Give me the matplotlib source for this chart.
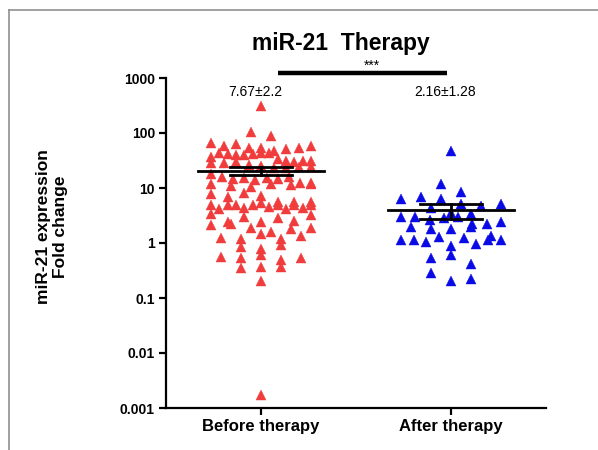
import matplotlib
matplotlib.use("Agg")
import matplotlib.pyplot as plt
from matplotlib.lines import Line2D
import numpy as np

plt.rcParams['font.family'] = ['Liberation Sans', 'DejaVu Sans']

# miR-21 fold change
groups = ['Before therapy', 'After therapy']
before = [313, 104, 89, 67, 59, 63, 53, 53, 48, 51, 53, 57,
          36, 43, 42, 40, 40, 42, 43, 43,
          33, 28.5, 31.5, 29.7, 28.5, 30.6, 29.3, 30.6,
          25.9, 24.8, 23.1, 23.1, 24.1, 24.1,
          17.6, 15.7, 14.5, 15.0, 14.0, 15.5, 14.8, 16.0,
          12.4, 11.9, 10.8, 10.3, 11.9, 11.2, 11.9, 12.4,
          7.8, 6.8, 8.1, 7.1,
          5.0, 4.1, 4.9, 3.3, 4.9, 5.6, 4.4, 5.0, 5.4, 4.5, 5.6, 4.9, 5.6, 4.1, 4.9, 4.4, 5.0,
          2.4, 2.1, 3.0, 2.4, 2.9, 2.5, 3.2, 2.2,
          1.25, 1.2, 1.9, 1.45, 1.6, 1.77, 1.9, 1.2, 1.34,
          0.85, 0.77, 0.91,
          0.56, 0.53, 0.61, 0.49, 0.53,
          0.35, 0.37, 0.37,
          0.20, 0.0017]
after = [48, 11.9,
         8.4, 6.3, 6.8, 6.2, 5.2, 4.8, 5.2, 4.4, 3.5, 3.3, 3.0, 2.95, 2.6, 2.8, 2.95,
         2.24, 1.95, 1.8, 1.8, 1.95, 2.18, 2.43,
         1.12, 1.12, 1.06, 1.28, 0.88, 1.22, 0.97, 1.34, 1.12, 1.12,
         0.53, 0.61, 0.42, 0.28, 0.205, 0.22]
summary_labels = ['7.67±2.2', '2.16±1.28']
yticks = [0.001, 0.01, 0.1, 1, 10, 100, 1000]
ytick_labels = ['0.001', '0.01', '0.1', '1', '10', '100', '1000']

fig = plt.figure(figsize=(5.98, 4.5), dpi=100)
ax = fig.add_axes([166/598, 42/450, 380/598, 330/450])
ax.set_yscale('log')
ax.set_ylim(0.001, 1000)
ax.set_xlim(0.5, 2.5)


def scatter_x(vals, xc, h=9.0, gap=20.0, maxspan=100.0):
    # GraphPad-like layout: group points into horizontal bands, spread each band
    ys = ax.transData.transform(np.column_stack([np.full(len(vals), xc), vals]))[:, 1]
    order = np.argsort(-ys, kind='stable')
    bands, cur = [], [order[0]]
    for i in order[1:]:
        if ys[cur[0]] - ys[i] <= h:
            cur.append(i)
        else:
            bands.append(cur)
            cur = [i]
    bands.append(cur)
    offs = np.zeros(len(vals))
    for b in bands:
        b = sorted(b)
        n = len(b)
        span = min((n - 1) * gap, maxspan)
        offs[b] = np.linspace(-span / 2, span / 2, n) if n > 1 else 0.0
    unit = ax.transData.transform((2, 1))[0] - ax.transData.transform((1, 1))[0]
    return xc + offs / unit


colors = ['#f03c3c', '#0a0ae6']
for k, (vals, col) in enumerate(zip([before, after], colors)):
    xc = k + 1
    xs = scatter_x(vals, xc)
    ax.plot(xs, vals, '^', ms=7.5, color=col, mec=col, mew=0.3, ls='none', zorder=2)
    v = np.array(vals)
    m = v.mean()
    sem = v.std(ddof=1) / np.sqrt(len(v))
    ax.plot([xc - 0.33, xc + 0.33], [m, m], color='black', lw=2, zorder=3)
    ax.plot([xc, xc], [m - sem, m + sem], color='black', lw=2, zorder=3)
    for yy in (m - sem, m + sem):
        ax.plot([xc - 0.165, xc + 0.165], [yy, yy], color='black', lw=2, zorder=3)
    ax.text(xc - 0.03, 550, summary_labels[k], ha='center', va='center', fontsize=10)

# significance bar
ax.plot([1.09, 1.98], [1217, 1217], color='black', lw=3.2, clip_on=False,
        solid_capstyle='butt')
ax.text(1.585, 1650, '***', ha='center', va='center', fontsize=10)

ax.set_yticks(yticks)
ax.set_yticklabels(ytick_labels, fontsize=10, fontweight='bold')
ax.minorticks_off()
ax.set_xticks([1, 2])
ax.set_xticklabels(groups, fontsize=12, fontweight='bold')
for s in ['top', 'right']:
    ax.spines[s].set_visible(False)
for s in ['left', 'bottom']:
    ax.spines[s].set_linewidth(1.6)
ax.tick_params(width=1.6, length=5, pad=3)

fig.text(341/598, 1 - 50/450, 'miR-21  Therapy', ha='center', va='baseline',
         fontsize=16.5, fontweight='bold')
fig.text(52/598, 1 - 227/450, 'miR-21 expression\nFold change', rotation=90,
         ha='center', va='center', fontsize=12.5, fontweight='bold',
         multialignment='center')

# grey frame of the panel
fig.add_artist(Line2D([9/598, 1], [1 - 10/450, 1 - 10/450], transform=fig.transFigure,
                      color='#909090', lw=1.2))
fig.add_artist(Line2D([9/598, 9/598], [0, 1 - 10/450], transform=fig.transFigure,
                      color='#909090', lw=1.2))

fig.savefig('out.png', dpi=100)
